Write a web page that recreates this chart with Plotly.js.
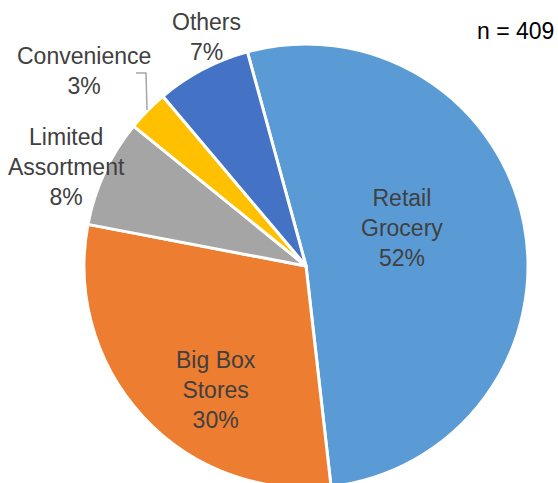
<!DOCTYPE html>
<html>
<head>
<meta charset="utf-8">
<script src="https://cdn.plot.ly/plotly-3.0.1.min.js"></script>
<style>
html,body{margin:0;padding:0;overflow:hidden;background:#fff;}
#chart{width:558px;height:492px;}
</style>
</head>
<body>
<div id="chart"></div>
<script>
// Data (shares; labels show rounded percentages)
var categories = ['Retail Grocery', 'Big Box Stores', 'Limited Assortment', 'Convenience', 'Others'];
var labelLines = [['Retail', 'Grocery'], ['Big Box', 'Stores'], ['Limited', 'Assortment'], ['Convenience'], ['Others']];
var shares = [52.45, 29.8, 7.85, 3.0, 6.9];
var colors = ['#5B9BD5', '#ED7D31', '#A5A5A5', '#FFC000', '#4472C4'];
var sampleNote = 'n = 409';

var W = 558, H = 492;
function px(x) { return x / W; }
function py(y) { return (H - y) / H; }

var total = shares.reduce(function (a, b) { return a + b; }, 0);

// label centre positions (pixels)
var labelPos = [[402, 228], [216, 390], [66, 167], [84, 71], [206, 37]];

var annotations = categories.map(function (c, i) {
  return {
    text: labelLines[i].concat([Math.round(shares[i] / total * 100) + '%']).join('<br>'),
    x: px(labelPos[i][0]), y: py(labelPos[i][1]),
    xref: 'paper', yref: 'paper', xanchor: 'center', yanchor: 'middle',
    showarrow: false, align: 'center',
    font: {family: 'Liberation Sans, Arial, sans-serif', size: 23, color: '#404040'}
  };
});
annotations.push({
  text: sampleNote, x: px(556), y: py(31), xref: 'paper', yref: 'paper',
  xanchor: 'right', yanchor: 'middle', showarrow: false,
  font: {family: 'Liberation Sans, Arial, sans-serif', size: 23, color: '#000000'}
});

var trace = {
  type: 'pie',
  labels: categories,
  values: shares,
  sort: false,
  direction: 'clockwise',
  rotation: -15.3,
  marker: {colors: colors, line: {color: '#ffffff', width: 3}},
  textinfo: 'none',
  hoverinfo: 'label+percent',
  showlegend: false,
  domain: {x: [px(84), px(528)], y: [py(488), py(44)]}
};

var layout = {
  width: W, height: H,
  margin: {l: 0, r: 0, t: 0, b: 0},
  paper_bgcolor: '#ffffff',
  showlegend: false,
  annotations: annotations,
  shapes: [{
    type: 'path', xref: 'paper', yref: 'paper',
    path: 'M ' + px(136) + ' ' + py(73) + ' L ' + px(146) + ' ' + py(73) + ' L ' + px(147) + ' ' + py(110),
    line: {color: '#A6A6A6', width: 1.5}
  }]
};

Plotly.newPlot('chart', [trace], layout, {displayModeBar: false, staticPlot: true});
</script>
</body>
</html>
